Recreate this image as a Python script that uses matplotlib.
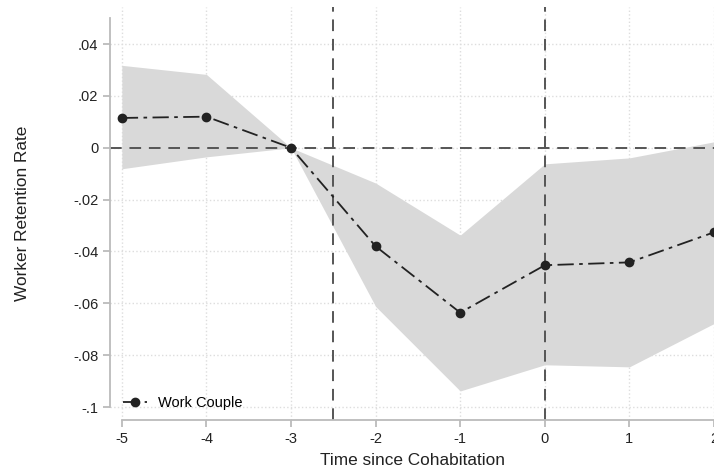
import numpy as np
import matplotlib.pyplot as plt

plt.rcParams['font.family'] = ['Liberation Sans', 'DejaVu Sans']

# event time and estimates
periods = [-5, -4, -3, -2, -1, 0, 1, 2]
coef = [0.0115, 0.0120, 0.0, -0.0380, -0.0636, -0.0453, -0.0442, -0.0326]
ci_low = [-0.0081, -0.0035, 0.0, -0.0612, -0.0938, -0.0837, -0.0845, -0.0678]
ci_high = [0.0318, 0.0283, 0.0, -0.0136, -0.0337, -0.0062, -0.0039, 0.0023]

yticks = [0.04, 0.02, 0.0, -0.02, -0.04, -0.06, -0.08, -0.1]
ytick_labels = ['.04', '.02', '0', '-.02', '-.04', '-.06', '-.08', '-.1']

fig = plt.figure(figsize=(7.14, 4.70), dpi=100)
ax = fig.add_axes([110 / 714, 50 / 470, 604 / 714, 413 / 470])

ax.fill_between(periods, ci_low, ci_high, color='#d9d9d9', lw=0, zorder=1)
ax.axhline(0, color='#555555', ls=(0, (6, 4)), lw=1.4, zorder=2)
ax.axvline(-2.5, color='#555555', ls=(0, (6, 4)), lw=1.4, zorder=2)
ax.axvline(0, color='#555555', ls=(0, (6, 4)), lw=1.4, zorder=2)
ax.plot(periods, coef, color='#222222', ls=(0, (9, 3, 2, 3)), lw=1.3,
        marker='o', ms=6, label='Work Couple', zorder=3, clip_on=False)

ax.set_xlim(-5.14, 2.0)
ax.set_ylim(-0.105, 0.0543)
ax.set_xticks(periods)
ax.set_xticklabels([str(p) for p in periods])
ax.set_yticks(yticks)
ax.set_yticklabels(ytick_labels)

ax.grid(True, color='#dddddd', ls=':', lw=1)
ax.set_axisbelow(True)

for s in ['top', 'right']:
    ax.spines[s].set_visible(False)
ax.spines['bottom'].set_bounds(-5, 2.0)
ax.spines['left'].set_bounds(-0.1, 0.05)
for s in ['left', 'bottom']:
    ax.spines[s].set_color('#bbbbbb')
    ax.spines[s].set_linewidth(1.3)
ax.tick_params(colors='#bbbbbb', labelcolor='#222222', labelsize=10.5, length=5, width=1.3)

ax.set_xlabel('Time since Cohabitation', fontsize=12.4, color='#222222', labelpad=5)
ax.set_ylabel('Worker Retention Rate', fontsize=12.4, color='#222222', labelpad=31)

ax.legend(loc='lower left', frameon=False, fontsize=10.5, handlelength=1.6,
          borderaxespad=0.3, bbox_to_anchor=(0.005, 0.0))

fig.savefig('out.png', dpi=100)
